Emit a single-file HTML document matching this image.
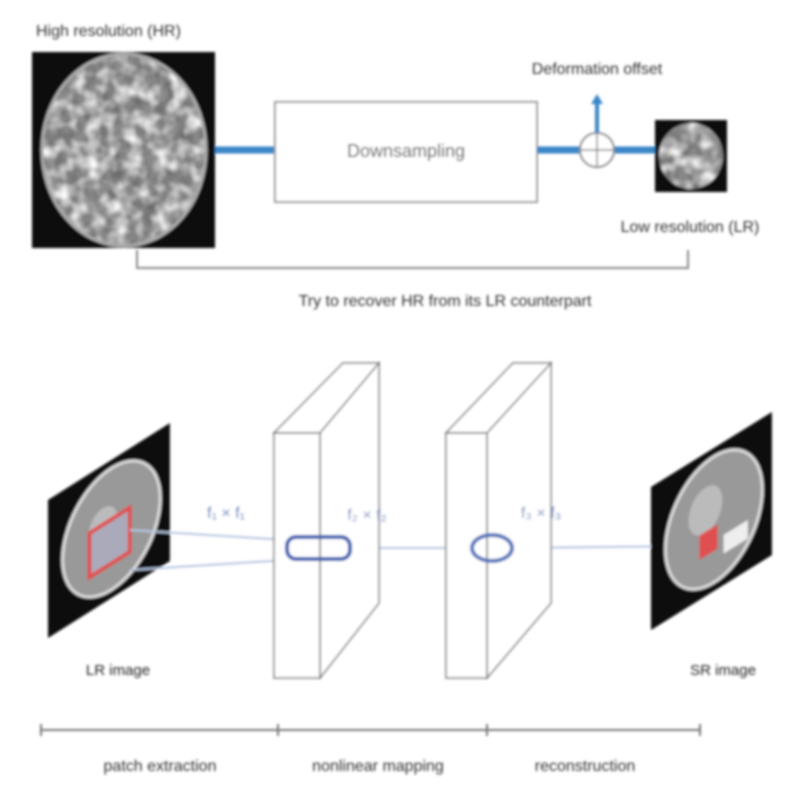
<!DOCTYPE html>
<html><head><meta charset="utf-8"><style>
html,body{margin:0;padding:0;background:#fff;width:800px;height:800px;overflow:hidden}
svg text{font-family:"Liberation Sans",sans-serif}
</style></head><body>
<svg width="800" height="800" viewBox="0 0 800 800">
<defs>
<filter id="tex" x="0" y="0" width="100%" height="100%">
<feTurbulence type="fractalNoise" baseFrequency="0.09" numOctaves="3" seed="4"/>
<feColorMatrix type="matrix" values="0 0 0 0 0.15  0 0 0 0 0.15  0 0 0 0 0.15  0 0 0 2.2 -0.75"/>
</filter>
<filter id="tex2" x="0" y="0" width="100%" height="100%">
<feTurbulence type="fractalNoise" baseFrequency="0.07" numOctaves="2" seed="9"/>
<feColorMatrix type="matrix" values="0 0 0 0 1  0 0 0 0 1  0 0 0 0 1  0 0 0 2.2 -0.85"/>
</filter>
<filter id="soft"><feGaussianBlur stdDeviation="1.4"/></filter>
<clipPath id="hrclip"><ellipse cx="124" cy="150" rx="82" ry="96"/></clipPath>
<clipPath id="lrclip"><ellipse cx="691" cy="156" rx="32" ry="33"/></clipPath>
</defs>
<g filter="url(#soft)">
<text x="36" y="36" font-size="16" fill="#333">High resolution (HR)</text>
<g>
<rect x="32" y="52" width="183" height="196" fill="#0a0a0a"/>
<ellipse cx="124" cy="150" rx="82" ry="96" fill="#8a8a8a"/>
<rect x="32" y="52" width="183" height="196" filter="url(#tex)" clip-path="url(#hrclip)"/>
<rect x="32" y="52" width="183" height="196" filter="url(#tex2)" clip-path="url(#hrclip)"/>
<ellipse cx="124" cy="150" rx="82" ry="96" fill="none" stroke="#aaa" stroke-width="3"/>
</g>
<line x1="215" y1="150" x2="274" y2="150" stroke="#3a86c8" stroke-width="7"/>
<rect x="275" y="102" width="262" height="100" fill="#fff" stroke="#999" stroke-width="2"/>
<text x="406" y="157" font-size="18" fill="#444" text-anchor="middle">Downsampling</text>
<line x1="537" y1="150" x2="580" y2="150" stroke="#3a86c8" stroke-width="7"/>
<line x1="614" y1="150" x2="656" y2="150" stroke="#3a86c8" stroke-width="7"/>
<g>
<circle cx="597" cy="150" r="17" fill="#fff" stroke="#888" stroke-width="2"/>
<line x1="580" y1="150" x2="614" y2="150" stroke="#888" stroke-width="1.5"/>
<line x1="597" y1="133" x2="597" y2="167" stroke="#888" stroke-width="1.5"/>
</g>
<line x1="597" y1="133" x2="597" y2="102" stroke="#3a86c8" stroke-width="4"/>
<polygon points="591,104 603,104 597,94" fill="#3a86c8"/>
<text x="597" y="74" font-size="16" fill="#333" text-anchor="middle">Deformation offset</text>
<g>
<rect x="655" y="120" width="72" height="72" fill="#111"/>
<ellipse cx="691" cy="156" rx="32" ry="33" fill="#888"/>
<rect x="655" y="120" width="72" height="72" filter="url(#tex)" clip-path="url(#lrclip)"/>
<rect x="655" y="120" width="72" height="72" filter="url(#tex2)" clip-path="url(#lrclip)"/>
</g>
<text x="690" y="232" font-size="16" fill="#333" text-anchor="middle">Low resolution (LR)</text>
<polyline points="137,250 137,268 688,268 688,250" fill="none" stroke="#888" stroke-width="2"/>
<text x="445" y="306" font-size="16" fill="#333" text-anchor="middle">Try to recover HR from its LR counterpart</text>

<g>
<g transform="matrix(122,-77,0,138,48,500)">
<polygon points="0,0 1,0 1,1 0,1" fill="#0a0a0a"/>
<ellipse cx="0.52" cy="0.5" rx="0.4" ry="0.44" fill="#999" stroke="#ddd" stroke-width="3" vector-effect="non-scaling-stroke"/>
<ellipse cx="0.45" cy="0.45" rx="0.12" ry="0.14" fill="#bbb"/>
<polygon points="0.34,0.43 0.67,0.43 0.67,0.75 0.34,0.75" fill="#aab" stroke="#e05050" stroke-width="4" vector-effect="non-scaling-stroke"/>
</g>
</g>
<g stroke="#b8c6e0" stroke-width="2" fill="none">
<line x1="130" y1="530" x2="287" y2="540"/>
<line x1="130" y1="570" x2="287" y2="560"/>
<line x1="350" y1="548" x2="470" y2="548"/>
<line x1="515" y1="548" x2="700" y2="546"/>
</g>
<g stroke="#777" stroke-width="1.5" fill="#fff">
<polygon points="274,433 343,363 379,363 320,433"/>
<polygon points="320,433 379,363 379,603 320,678"/>
<rect x="274" y="433" width="46" height="245"/>
</g>
<g stroke="#777" stroke-width="1.5" fill="#fff">
<polygon points="446,433 513,363 551,363 487,433"/>
<polygon points="487,433 551,363 551,603 487,678"/>
<rect x="446" y="433" width="41" height="245"/>
</g>
<rect x="287" y="537" width="63" height="22" rx="9" fill="none" stroke="#3a5fb0" stroke-width="4"/>
<ellipse cx="492" cy="548" rx="20" ry="13" fill="none" stroke="#5577bb" stroke-width="4"/>
<text x="226" y="518" font-size="16" fill="#7a90c0" text-anchor="middle">f₁ × f₁</text>
<text x="367" y="520" font-size="16" fill="#7a90c0" text-anchor="middle">f₂ × f₂</text>
<text x="541" y="518" font-size="16" fill="#7a90c0" text-anchor="middle">f₃ × f₃</text>
<g>
<g transform="matrix(121,-75,0,143,651,487)">
<polygon points="0,0 1,0 1,1 0,1" fill="#0a0a0a"/>
<ellipse cx="0.52" cy="0.5" rx="0.4" ry="0.44" fill="#999" stroke="#ddd" stroke-width="3" vector-effect="non-scaling-stroke"/>
<ellipse cx="0.45" cy="0.4" rx="0.14" ry="0.16" fill="#bbb"/>
<polygon points="0.4,0.55 0.55,0.55 0.55,0.72 0.4,0.72" fill="#e05050"/>
<polygon points="0.6,0.65 0.8,0.65 0.8,0.78 0.6,0.78" fill="#eee"/>
</g>
</g>
<text x="118" y="675" font-size="15" fill="#222" text-anchor="middle">LR image</text>
<text x="723" y="675" font-size="15" fill="#222" text-anchor="middle">SR image</text>
<g stroke="#777" stroke-width="2">
<line x1="41" y1="730" x2="700" y2="730"/>
<line x1="41" y1="724" x2="41" y2="736"/>
<line x1="278" y1="724" x2="278" y2="736"/>
<line x1="487" y1="724" x2="487" y2="736"/>
<line x1="700" y1="724" x2="700" y2="736"/>
</g>
<text x="160" y="771" font-size="16" fill="#333" text-anchor="middle">patch extraction</text>
<text x="378" y="771" font-size="16" fill="#333" text-anchor="middle">nonlinear mapping</text>
<text x="585" y="771" font-size="16" fill="#333" text-anchor="middle">reconstruction</text>
</g>
</svg>
</body></html>
